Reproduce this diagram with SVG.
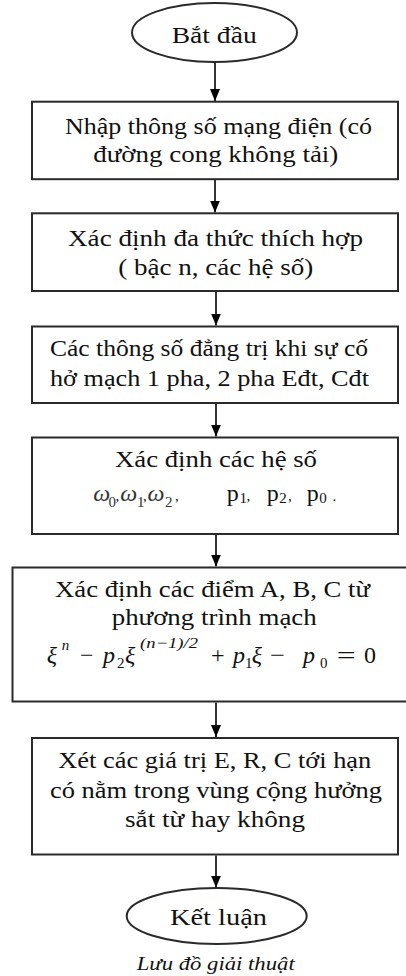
<svg xmlns="http://www.w3.org/2000/svg" width="406" height="976" viewBox="0 0 406 976">
<style>
.box{fill:#fff;stroke:#2a2a2a;stroke-width:2}
.t{font-family:"Liberation Serif","Times New Roman",serif;font-size:24px;fill:#111}
.m{font-family:"Liberation Serif","Times New Roman",serif;font-size:24px;fill:#111;font-style:italic}
.s{font-family:"Liberation Serif","Times New Roman",serif;font-size:15px;fill:#111}
.si{font-family:"Liberation Serif","Times New Roman",serif;font-size:15px;fill:#111;font-style:italic}
.w{font-family:"Liberation Serif","Times New Roman",serif;font-size:24px;fill:#333;font-style:italic}
.sub{font-size:15px;font-style:normal}
.cap{font-family:"Liberation Serif","Times New Roman",serif;font-size:19px;fill:#111;font-style:italic}
.c{stroke:#000;stroke-width:1.6;fill:none;marker-end:url(#ah)}
</style>
<defs>
<marker id="ah" markerUnits="userSpaceOnUse" markerWidth="13" markerHeight="11" refX="12" refY="5" orient="auto">
<path d="M0,0 L12,5 L0,10 z" fill="#000"/>
</marker>
</defs>
<rect width="406" height="976" fill="#fff"/>

<g id="connectors">
<line class="c" x1="215" y1="62" x2="215" y2="101"/>
<line class="c" x1="215" y1="180" x2="215" y2="212.5"/>
<line class="c" x1="216" y1="292" x2="216" y2="325.5"/>
<line class="c" x1="216" y1="404" x2="216" y2="436.5"/>
<line class="c" x1="216" y1="535" x2="216" y2="566.5"/>
<line class="c" x1="216" y1="702.5" x2="216" y2="737"/>
<line class="c" x1="216" y1="855.5" x2="216" y2="887.5"/>
</g>

<g id="start">
<ellipse class="box" cx="214.5" cy="32.5" rx="82.5" ry="29.5"/>
<text class="t" x="171.7" y="43.3" textLength="85" lengthAdjust="spacingAndGlyphs">Bắt đầu</text>
</g>

<g id="step1">
<rect class="box" x="32" y="101.7" width="366" height="77.5"/>
<text class="t" x="65" y="133.5" textLength="307" lengthAdjust="spacingAndGlyphs">Nhập thông số mạng điện (có</text>
<text class="t" x="93.3" y="162" textLength="245" lengthAdjust="spacingAndGlyphs">đường cong không tải)</text>
</g>

<g id="step2">
<rect class="box" x="32" y="213.3" width="366" height="77.7"/>
<text class="t" x="68" y="245.5" textLength="295" lengthAdjust="spacingAndGlyphs">Xác định đa thức thích hợp</text>
<text class="t" x="118.3" y="275" textLength="195" lengthAdjust="spacingAndGlyphs">( bậc n, các hệ số)</text>
</g>

<g id="step3">
<rect class="box" x="32" y="326.5" width="366" height="76.5"/>
<text class="t" x="50" y="356" textLength="318" lengthAdjust="spacingAndGlyphs">Các thông số đẳng trị khi sự cố</text>
<text class="t" x="50" y="386" textLength="319" lengthAdjust="spacingAndGlyphs">hở mạch 1 pha, 2 pha Eđt, Cđt</text>
</g>

<g id="step4">
<rect class="box" x="32" y="437.5" width="366" height="96.5"/>
<text class="t" x="115" y="466.5" textLength="202" lengthAdjust="spacingAndGlyphs">Xác định các hệ số</text>
<text class="w" x="93.3" y="501">ω<tspan class="sub" x="108.5" dy="6">0</tspan><tspan class="sub" x="115.5" dy="-6" fill="#111">,</tspan><tspan x="120.2">ω</tspan><tspan class="sub" x="137" dy="6">1</tspan><tspan class="sub" x="143" dy="-6" fill="#111">,</tspan><tspan x="147.5">ω</tspan><tspan class="sub" x="165" dy="6">2</tspan><tspan class="sub" x="175" dy="-6" fill="#111">,</tspan></text>
<text class="t" x="226.7" y="501">p<tspan class="sub" x="239.5" dy="2">1</tspan><tspan class="sub" x="246.5" dy="-2">,</tspan><tspan x="266.7">p</tspan><tspan class="sub" x="279.3" dy="2">2</tspan><tspan class="sub" x="288" dy="-2">,</tspan><tspan x="306.7">p</tspan><tspan class="sub" x="319.3" dy="2">0</tspan><tspan class="sub" x="332.5" dy="-2">.</tspan></text>
</g>

<g id="step5">
<rect class="box" x="12.5" y="567.5" width="400" height="134"/>
<text class="t" x="55" y="596.5" textLength="315" lengthAdjust="spacingAndGlyphs">Xác định các điểm A, B, C từ</text>
<text class="t" x="111.7" y="625" textLength="205" lengthAdjust="spacingAndGlyphs">phương trình mạch</text>
<text class="m" x="46.7" y="663">ξ</text>
<text class="si" x="61.7" y="650">n</text>
<text class="t" x="80" y="663">−</text>
<text class="m" x="103" y="663">p</text>
<text class="s" x="117" y="668">2</text>
<text class="m" x="125" y="663">ξ</text>
<text class="si" x="140" y="648" textLength="58" lengthAdjust="spacingAndGlyphs">(n−1)/2</text>
<text class="t" x="211" y="663">+</text>
<text class="m" x="233" y="663">p</text>
<text class="s" x="245" y="668">1</text>
<text class="m" x="251.7" y="663">ξ</text>
<text class="t" x="270" y="663" textLength="15" lengthAdjust="spacingAndGlyphs">−</text>
<text class="m" x="303" y="663">p</text>
<text class="s" x="320" y="668">0</text>
<text class="t" x="336.7" y="663" textLength="19" lengthAdjust="spacingAndGlyphs">=</text>
<text class="t" x="364" y="663">0</text>
</g>

<g id="step6">
<rect class="box" x="32" y="738" width="366" height="116.5"/>
<text class="t" x="58.3" y="768" textLength="313" lengthAdjust="spacingAndGlyphs">Xét các giá trị E, R, C tới hạn</text>
<text class="t" x="50" y="798" textLength="332" lengthAdjust="spacingAndGlyphs">có nằm trong vùng cộng hưởng</text>
<text class="t" x="125" y="827" textLength="180" lengthAdjust="spacingAndGlyphs">sắt từ hay không</text>
</g>

<g id="end">
<ellipse class="box" cx="216.7" cy="916" rx="90" ry="28"/>
<text class="t" x="170" y="925" textLength="97" lengthAdjust="spacingAndGlyphs">Kết  luận</text>
</g>

<g id="caption">
<text class="cap" x="136.7" y="970" textLength="158" lengthAdjust="spacingAndGlyphs">Lưu đồ giải thuật</text>
</g>
</svg>
